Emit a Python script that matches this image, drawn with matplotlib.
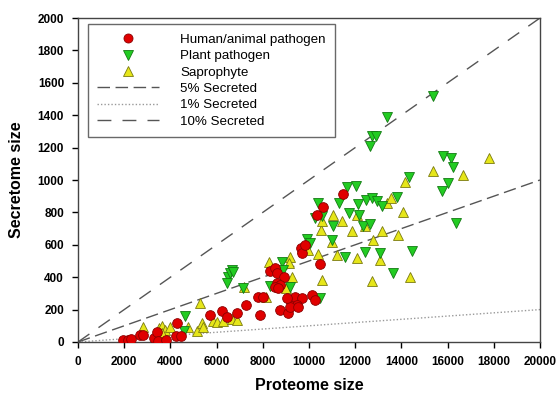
import matplotlib
matplotlib.use("Agg")
import matplotlib.pyplot as plt
from matplotlib.lines import Line2D

plt.rcParams['font.family'] = ['Liberation Sans', 'DejaVu Sans']

# Human/animal pathogen (proteome size, secretome size)
human_x = [1948, 2165, 2294, 2684, 2814, 3290, 3420, 3463, 3810, 4286, 4242, 4459,
           5714, 6234, 6450, 6883, 7273, 7879, 7792, 8009, 8312, 8528, 8615, 8918,
           8615, 8745, 8528, 8658, 8745, 9091, 9177, 9394, 9697, 9481, 9177, 9524,
           9048, 10130, 10260, 9654, 9697, 10476, 9827, 10346, 10606, 11472]
human_y = [12, 12, 19, 43, 43, 25, 62, 6, 12, 117, 37, 37,
           167, 191, 154, 179, 228, 167, 278, 278, 438, 457, 426, 401,
           364, 352, 340, 333, 198, 179, 259, 278, 272, 228, 216, 216,
           272, 290, 259, 580, 549, 481, 599, 784, 833, 914]

# Plant pathogen
plant_x = [4632, 4589, 6494, 6580, 6667, 6710, 6450, 7143, 8312, 8831, 8875, 9177,
           10476, 9913, 10043, 10260, 10563, 10390, 11299, 12121, 12476, 12727, 12944,
           13160, 13810, 11645, 12035, 11732, 12165, 11039, 12338, 12641, 10996, 11558,
           12424, 13074, 13636, 14459, 15368, 13377, 12727, 12900, 12641, 15801, 16147,
           16234, 16017, 15757, 14329, 16364]
plant_y = [160, 68, 401, 426, 444, 432, 364, 333, 346, 494, 444, 340,
           272, 636, 611, 765, 778, 858, 858, 852, 877, 889, 870,
           840, 895, 957, 963, 796, 784, 716, 716, 728, 630, 525,
           556, 549, 426, 562, 1519, 1389, 1272, 1272, 1210, 1148, 1136,
           1080, 981, 932, 1019, 735]

# Saprophyte
sapro_x = [2814, 3506, 3636, 3766, 3983, 3636, 4762, 5281, 5152, 5368, 5411, 5844,
           6017, 6277, 6667, 6883, 7186, 8139, 8268, 9177, 9134, 9264, 9004, 9697,
           9957, 10390, 10563, 11212, 12078, 12727, 13074, 12771, 10519, 10563, 10996,
           11039, 11429, 12078, 12424, 11861, 13160, 13853, 13377, 13550, 14069, 14156,
           15368, 16667, 17792, 14372]
sapro_y = [93, 86, 99, 74, 93, 56, 93, 241, 68, 117, 93, 130,
           123, 130, 142, 136, 340, 278, 494, 525, 488, 401, 333, 580,
           568, 543, 383, 537, 519, 377, 506, 630, 691, 747, 617,
           784, 747, 784, 716, 685, 685, 660, 858, 889, 802, 988,
           1056, 1031, 1136, 401]

# Reference lines: fraction of proteome secreted
line_x = [0, 20000]
frac_5 = 0.05
frac_1 = 0.01
frac_10 = 0.10

x_ticks = list(range(0, 20001, 2000))
y_ticks = list(range(0, 2001, 200))

fig = plt.figure(figsize=(5.58, 3.95), dpi=100)
ax = fig.add_axes([0.1398, 0.1342, 0.8279, 0.8202])

lc = '#555555'
ax.plot(line_x, [v * frac_5 for v in line_x], color=lc, lw=1.0, dashes=(9, 4), zorder=1)
ax.plot(line_x, [v * frac_1 for v in line_x], color='#999999', lw=1.0, dashes=(1, 1.5), zorder=1)
ax.plot(line_x, [v * frac_10 for v in line_x], color=lc, lw=1.0, dashes=(10, 8), zorder=1)

ms = 7
ax.plot(sapro_x, sapro_y, linestyle='none', marker='^', ms=ms, mfc='#E6E619',
        mec='#7A7A10', mew=0.6, zorder=3)
ax.plot(plant_x, plant_y, linestyle='none', marker='v', ms=ms, mfc='#22CC22',
        mec='#137A13', mew=0.6, zorder=3)
ax.plot(human_x, human_y, linestyle='none', marker='o', ms=ms, mfc='#E00000',
        mec='#8A0000', mew=0.6, zorder=4)

ax.set_xlim(0, 20000)
ax.set_ylim(0, 2000)
ax.set_xticks(x_ticks)
ax.set_yticks(y_ticks)
ax.tick_params(direction='out', length=4, width=1, labelsize=8.5, pad=6)
for lab in ax.get_xticklabels() + ax.get_yticklabels():
    lab.set_fontweight('bold')
for s in ax.spines.values():
    s.set_color('#444444')
    s.set_linewidth(1.0)

ax.set_xlabel('Proteome size', fontsize=11.5, fontweight='bold', labelpad=7)
ax.set_ylabel('Secretome size', fontsize=11.5, fontweight='bold', labelpad=10)

handles = [
    Line2D([], [], linestyle='none', marker='o', ms=6.5, mfc='#E00000', mec='#8A0000', mew=0.6),
    Line2D([], [], linestyle='none', marker='v', ms=6.5, mfc='#22CC22', mec='#137A13', mew=0.6),
    Line2D([], [], linestyle='none', marker='^', ms=6.5, mfc='#E6E619', mec='#7A7A10', mew=0.6),
    Line2D([], [], color=lc, lw=1.0, dashes=(9, 4)),
    Line2D([], [], color='#999999', lw=1.0, dashes=(1, 1.5)),
    Line2D([], [], color=lc, lw=1.0, dashes=(10, 8)),
]
labels = ['Human/animal pathogen', 'Plant pathogen', 'Saprophyte',
          '5% Secreted', '1% Secreted', '10% Secreted']
leg = ax.legend(handles, labels, loc='upper left', bbox_to_anchor=(0.0216, 0.981),
                fontsize=9.6, handlelength=4.6, handletextpad=1.6, labelspacing=0.3,
                borderpad=0.7, fancybox=False, frameon=True, borderaxespad=0)
leg.get_frame().set_edgecolor('#444444')
leg.get_frame().set_linewidth(1.0)

fig.savefig('out.png', dpi=100)
